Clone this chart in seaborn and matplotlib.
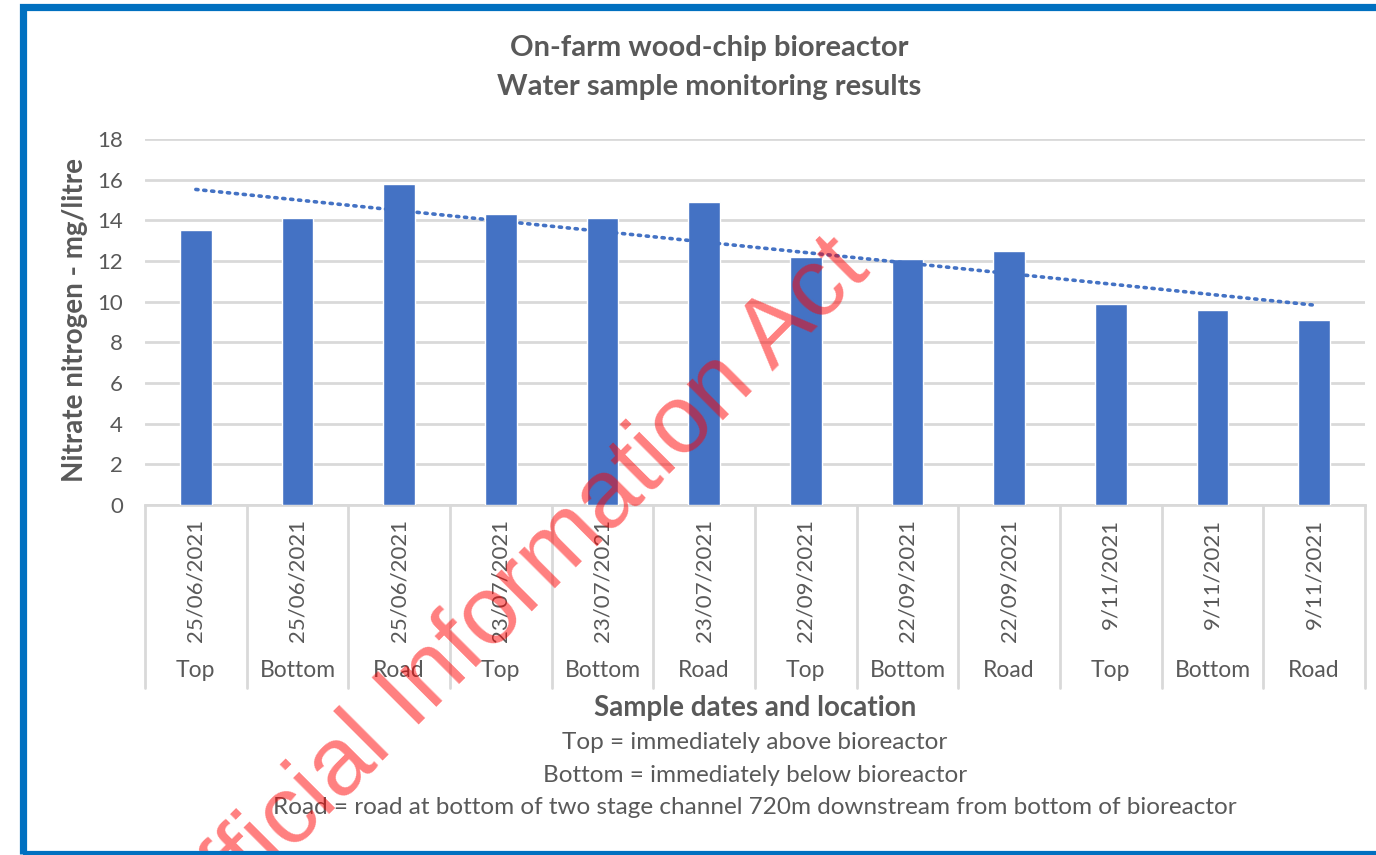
import numpy as np
import pandas as pd
import matplotlib
matplotlib.use("Agg")
import matplotlib.pyplot as plt
import matplotlib.transforms as mtransforms
from matplotlib.patches import Rectangle
import seaborn as sns

# ---- data ----
dates = ["25/06/2021", "25/06/2021", "25/06/2021",
         "23/07/2021", "23/07/2021", "23/07/2021",
         "22/09/2021", "22/09/2021", "22/09/2021",
         "9/11/2021", "9/11/2021", "9/11/2021"]
locations = ["Top", "Bottom", "Road"] * 4
nitrate = [13.5, 14.1, 15.8, 14.3, 14.1, 14.9, 12.2, 12.1, 12.5, 9.9, 9.6, 9.1]
y_ticks = [0, 2, 4, 6, 8, 10, 12, 14, 16, 18]

title_lines = ["On-farm wood-chip bioreactor", "Water sample monitoring results"]
ylabel_text = "Nitrate nitrogen - mg/litre"
xlabel_text = "Sample dates and location"
notes = ["Top = immediately above bioreactor",
         "Bottom = immediately below bioreactor",
         "Road = road at bottom of two stage channel 720m downstream from bottom of bioreactor"]
watermark = "Official Information Act"

# ---- style ----
sns.set_theme(style="white")
plt.rcParams["font.family"] = ["Lato", "DejaVu Sans"]
TXT = "#595959"
BAR = "#4472C4"
GRID = "#D9D9D9"

W, H = 1376, 855
fig = plt.figure(figsize=(W / 100, H / 100), dpi=100)
fig.patch.set_facecolor("white")

ax = fig.add_axes([145 / W, 1 - 505 / H, (1365 - 145) / W, (505 - 139) / H])

df = pd.DataFrame({"idx": [str(i) for i in range(len(nitrate))], "value": nitrate})
sns.barplot(data=df, x="idx", y="value", color=BAR, width=0.31, saturation=1,
            ax=ax, zorder=3)
pos = np.arange(len(nitrate))
sns.regplot(x=pos, y=np.array(nitrate), scatter=False, ci=None, truncate=True,
            ax=ax, line_kws=dict(color=BAR, lw=2.6, linestyle=(0, (0.6, 1.6)),
                                 dash_capstyle="round", zorder=4))

ax.set_ylim(0, 18)
ax.set_xlim(-0.5, len(nitrate) - 0.5)
ax.set_yticks(y_ticks)
ax.set_yticklabels([str(t) for t in y_ticks], fontsize=16, color=TXT)
ax.yaxis.grid(True, color=GRID, lw=2, zorder=0)
ax.set_axisbelow(True)
for s in ["left", "right", "top"]:
    ax.spines[s].set_visible(False)
ax.spines["bottom"].set_color(GRID)
ax.spines["bottom"].set_linewidth(2)
ax.tick_params(axis="y", length=0, pad=16)
ax.tick_params(axis="x", length=0, pad=10)
ax.set_xticks(pos)
ax.set_xticklabels(dates, rotation=90, fontsize=16, color=TXT, va="top", ha="center")
ax.set_xlabel("")
ax.set_ylabel("")

trans = mtransforms.blended_transform_factory(ax.transData, ax.transAxes)
ax_h = 505 - 139
for i, loc in enumerate(locations):
    ax.text(i, -(670 - 505) / ax_h, loc, transform=trans, ha="center", va="center",
            fontsize=16.5, color=TXT)
for k in range(len(nitrate) + 1):
    ax.plot([k - 0.5, k - 0.5], [0, -(688 - 505) / ax_h], transform=trans,
            color=GRID, lw=2, clip_on=False, zorder=1)

# titles and labels
for yy, line in zip([48, 87], title_lines):
    fig.text(709 / W, 1 - yy / H, line, ha="center", va="center", fontsize=21,
             fontweight="bold", color=TXT)
fig.text(75 / W, 1 - 320 / H, ylabel_text, rotation=90, ha="center", va="center",
         fontsize=20, fontweight="bold", color=TXT)
fig.text(755 / W, 1 - 708 / H, xlabel_text, ha="center", va="center",
         fontsize=20, fontweight="bold", color=TXT)
for yy, line in zip([742, 775, 807], notes):
    fig.text(755 / W, 1 - yy / H, line, ha="center", va="center", fontsize=17.5, color=TXT)

# watermark
fig.text(872 / W, 1 - 272 / H, watermark, rotation=45, rotation_mode="anchor",
         ha="right", va="baseline", fontsize=70, color="red", alpha=0.5,
         family=["Liberation Sans", "DejaVu Sans"], zorder=10)

# blue frame
fig.patches.append(Rectangle((22.5 / W, (855 - 853.5) / H), 1.2, (853.5 - 7) / H,
                             transform=fig.transFigure, fill=False,
                             edgecolor="#0070C0", lw=5.2, zorder=20))

fig.savefig("out.png", dpi=100)
